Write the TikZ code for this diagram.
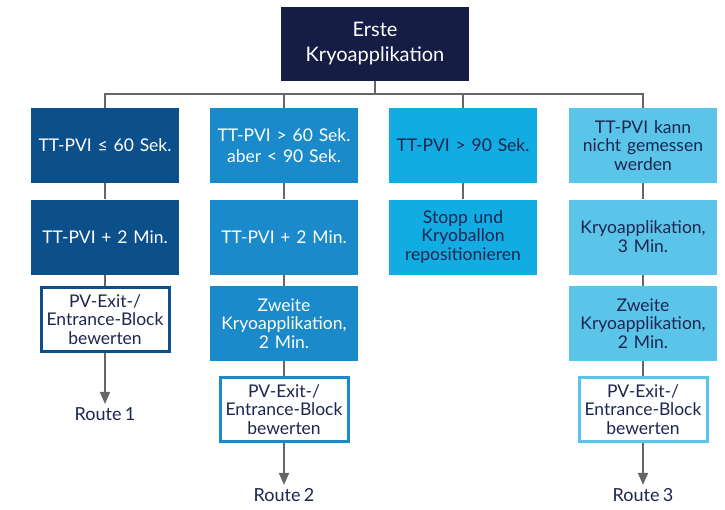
\documentclass[tikz,border=0pt]{standalone}
\usepackage{fontspec}
\setmainfont{Lato}[WordSpace=0.75]
\usetikzlibrary{arrows.meta}
\definecolor{navy}{HTML}{151D45}
\definecolor{colA}{HTML}{0B4F8B}
\definecolor{colB}{HTML}{1A8ACB}
\definecolor{colC}{HTML}{10ACE2}
\definecolor{colD}{HTML}{5BC4E9}
\definecolor{txt}{HTML}{1D2550}
\definecolor{lgray}{HTML}{666666}

\begin{document}
\begin{tikzpicture}[x=1pt,y=-1pt,
    box/.style={rectangle,minimum width=148pt,minimum height=75pt,text width=146pt,inner sep=1pt,align=center,font=\fontsize{17.5}{18.8}\selectfont},
    wbox/.style={box,fill=white,minimum width=126pt,minimum height=64pt,text width=126pt,line width=3pt,text=txt},
    link/.style={draw=lgray,line width=1.8pt},
    go/.style={link,-{Triangle[width=10pt,length=12pt]}}]
\useasboundingbox (0,0) rectangle (725,509);
\node[box,fill=navy,text=white,minimum width=188pt,minimum height=74pt,font=\fontsize{20}{25}\selectfont] (T) at (375,43.5) {Erste\\Kryoapplikation};
\coordinate (bus) at (375,94);
\begin{scope}[every node/.style={box}]
	\node[fill=colA,text=white] (A1) at (105,145.5) {TT-PVI ≤ 60 Sek.};
	\node[fill=colA,text=white] (A2) at (105,237) {TT-PVI + 2 Min.};
	\node[fill=colB,text=white,font=\fontsize{17.5}{21}\selectfont] (B1) at (284,145.5) {TT-PVI > 60 Sek.\\aber < 90 Sek.};
	\node[fill=colB,text=white] (B2) at (284,237) {TT-PVI + 2 Min.};
	\node[fill=colB,text=white] (B3) at (284,323.5) {Zweite\\Kryoapplikation,\\2 Min.};
	\node[fill=colC,text=txt] (C1) at (463,145.5) {TT-PVI > 90 Sek.};
	\node[fill=colC,text=txt] (C2) at (463,237) {Stopp und\\Kryoballon\\repositionieren};
	\node[fill=colD,text=txt] (D1) at (643,145.5) {TT-PVI kann\\nicht gemessen\\werden};
	\node[fill=colD,text=txt] (D2) at (643,237) {Kryoapplikation,\\3 Min.};
	\node[fill=colD,text=txt] (D3) at (643,323.5) {Zweite\\Kryoapplikation,\\2 Min.};
\end{scope}
\node[wbox,draw=colA] (A3) at (105,319.5) {PV-Exit-/\\Entrance-Block\\bewerten};
\node[wbox,draw=colB] (B4) at (284,409.5) {PV-Exit-/\\Entrance-Block\\bewerten};
\node[wbox,draw=colD] (D4) at (643,409.5) {PV-Exit-/\\Entrance-Block\\bewerten};
\begin{scope}[every node/.style={text=txt,font=\fontsize{18}{20}\selectfont}]
	\node (R1) at (105,414) {Route 1};
	\node (R2) at (284,495) {Route 2};
	\node (R3) at (643,495) {Route 3};
\end{scope}
\draw[link] (T) -- (bus);
\draw[link] (A1) |- (bus);
\draw[link] (B1) |- (bus);
\draw[link] (C1) |- (bus);
\draw[link] (D1) |- (bus);
\draw[link] (A1) -- (A2);
\draw[link] (A2) -- (A3);
\draw[link] (B1) -- (B2);
\draw[link] (B2) -- (B3);
\draw[link] (B3) -- (B4);
\draw[link] (C1) -- (C2);
\draw[link] (D1) -- (D2);
\draw[link] (D2) -- (D3);
\draw[link] (D3) -- (D4);
\draw[go] (A3) -- (R1);
\draw[go] (B4) -- (R2);
\draw[go] (D4) -- (R3);
\end{tikzpicture}
\end{document}
